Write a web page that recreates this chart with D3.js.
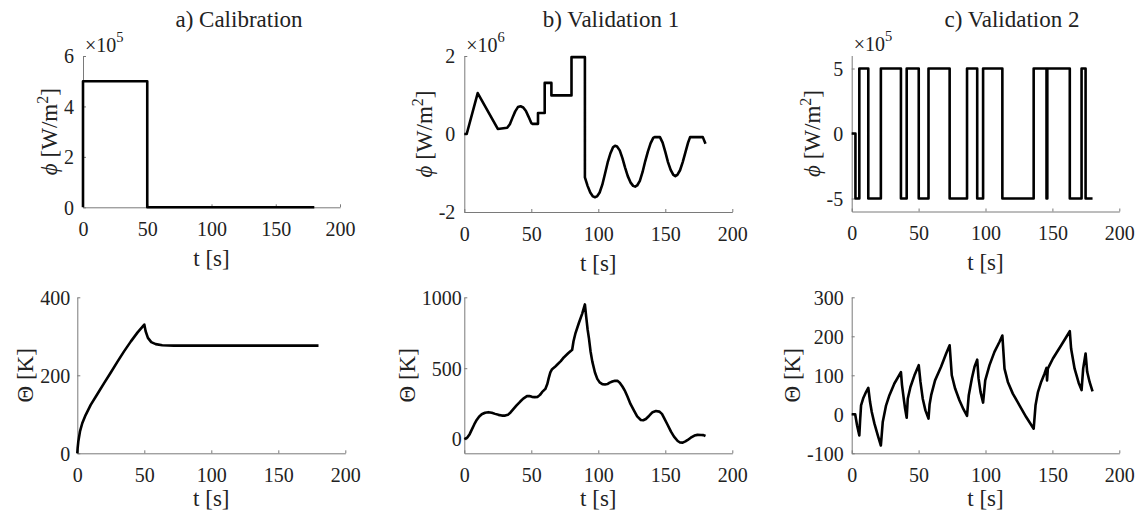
<!DOCTYPE html>
<html>
<head>
<meta charset="utf-8">
<script src="https://d3js.org/d3.v7.min.js"></script>
</head>
<body style="margin:0; background:#fff">
<svg id="fig" width="1139" height="514"></svg>
<script>
// ---- data: [time (s), value] ----
var timeTicks = [0, 50, 100, 150, 200];

// a) Calibration
var calibPhi = [[0, 0], [0, 5e5], [50, 5e5], [50, 0], [180, 0]];
var calibTheta = [[0, 0], [0.25, 13], [0.75, 30], [2, 56], [3.7, 77], [6.2, 98], [10, 124], [15, 152],
  [20, 180], [25, 207], [30, 235], [35, 262], [40, 287], [45, 310], [50, 330], [51, 313], [52.7, 296],
  [55.2, 285], [58.5, 280], [63.4, 277], [72, 276], [100, 276], [140, 276], [180, 276]];

// b) Validation 1
var val1Phi = [[0, 0], [1.8, 0], [10, 1.05e6], [25, 0.13e6], [32, 0.16e6], [34, 0.25e6], [36, 0.42e6],
  [38, 0.58e6], [40, 0.69e6], [42, 0.71e6], [44, 0.68e6], [46, 0.59e6], [48, 0.44e6], [50, 0.28e6],
  [51, 0.26e6], [55, 0.26e6], [55, 0.54e6], [60, 0.54e6], [60, 1.31e6], [65, 1.31e6], [65, 0.99e6],
  [80, 0.99e6], [80, 1.97e6], [90, 1.97e6], [90, -1.11e6], [92, -1.33e6], [94, -1.50e6], [96, -1.60e6],
  [97.5, -1.62e6], [99, -1.60e6], [101, -1.50e6], [103, -1.30e6], [105, -1.02e6], [107, -0.73e6],
  [109, -0.50e6], [111, -0.34e6], [112.5, -0.30e6], [114, -0.32e6], [116, -0.42e6], [118, -0.62e6],
  [120, -0.86e6], [122, -1.08e6], [124, -1.24e6], [126, -1.33e6], [127.5, -1.35e6], [129, -1.32e6],
  [131, -1.20e6], [133, -0.98e6], [135, -0.70e6], [137, -0.45e6], [139, -0.24e6], [141, -0.10e6],
  [142, -0.08e6], [146, -0.08e6], [148, -0.22e6], [150, -0.46e6], [152, -0.72e6], [154, -0.92e6],
  [156, -1.05e6], [157.5, -1.08e6], [159, -1.05e6], [161, -0.93e6], [163, -0.72e6], [165, -0.47e6],
  [167, -0.22e6], [168.5, -0.08e6], [178, -0.08e6], [180, -0.25e6]];
var val1Theta = [[0, 0], [2.25, 11], [4, 35], [5.5, 65], [7.5, 105], [9.25, 135], [11, 158], [13, 175],
  [15.5, 186], [18, 190], [20.5, 186], [23, 178], [25.5, 171], [28, 166], [30.5, 166], [32.5, 171],
  [34.5, 188], [36.75, 213], [39, 238], [41.75, 265], [44, 286], [46.75, 303], [48.5, 304], [50.5, 298],
  [52.5, 296], [54.75, 298], [56.5, 312], [58, 331], [60.5, 354], [62, 390], [63, 430], [64.2, 470],
  [65.5, 493], [67.5, 508], [69.25, 524], [72, 550], [74.25, 576], [77.5, 605], [80.5, 630], [81.5, 690],
  [83, 748], [85.5, 819], [88, 885], [90, 950], [91, 860], [92, 775], [93, 712], [94.2, 620], [95.5, 548],
  [97.5, 470], [99.25, 425], [101, 400], [103, 388], [105, 385], [106.75, 388], [108.5, 398], [110.5, 406],
  [112.5, 412], [114.25, 411], [116, 398], [118, 371], [120, 338], [121.75, 300], [124, 248], [126.75, 199],
  [129, 160], [131.75, 135], [133.5, 133], [135.5, 142], [138, 165], [140.5, 190], [143, 198], [145.5, 194],
  [147.5, 178], [149.25, 147], [151.5, 105], [154.25, 53], [156.5, 18], [159.25, -13], [161, -24],
  [163, -25], [165, -16], [166.75, -6], [169, 10], [171.75, 25], [174, 30], [176.75, 29], [178.5, 28],
  [180, 22]];

// c) Validation 2 (phi holds each level until the next switch time)
var val2Phi = [[0, 0], [2.8, -5e5], [5.7, 5e5], [12.4, -5e5], [21.8, 5e5], [36.8, -5e5], [41.1, 5e5],
  [50.1, -5e5], [57.4, 5e5], [73.2, -5e5], [86.2, 5e5], [93.8, -5e5], [98.2, 5e5], [112.6, -5e5],
  [136, 5e5], [145.6, -5e5], [146.2, 5e5], [163, -5e5], [171.8, 5e5], [174.8, -5e5], [180, -5e5]];
var val2Theta = [[0, 0], [2.6, 0], [4, -28], [5.7, -54], [6.3, -15], [7, 23], [8.7, 42], [10.7, 57],
  [12.4, 68], [13.7, 32], [15, 6], [17, -24], [19.5, -54], [21.8, -80], [23.2, -20], [25.7, 23],
  [28.2, 49], [31.9, 79], [36.8, 108], [37.6, 75], [38.9, 40], [39.9, 15], [41.1, -9], [41.9, 40],
  [43.9, 70], [46.9, 100], [50.1, 126], [51.4, 83], [53.1, 40], [55.1, 10], [57.4, -11], [58.2, 25],
  [59.4, 49], [62.3, 87], [66.8, 122], [70.6, 156], [73.2, 177], [74.8, 100], [77.3, 66], [80.5, 36],
  [83.5, 13], [86.2, -4], [87.5, 49], [89.8, 92], [91.8, 122], [93.8, 140], [94.8, 92], [96.3, 57],
  [98.2, 30], [99.8, 87], [103, 126], [106.7, 160], [110.5, 186], [112.6, 202], [114.2, 117],
  [116.7, 83], [120.4, 53], [125.4, 23], [130.4, -7], [136, -37], [137.4, 23], [139.2, 57], [141.6, 83],
  [144.1, 104], [145.6, 119], [146, 87], [146.6, 117], [150.4, 143], [156.6, 177], [163, 213],
  [164, 168], [166.6, 117], [169.6, 81], [171.8, 62], [173, 117], [174.8, 156], [176, 109], [177.8, 83],
  [180, 59]];

// ---- layout ----
var panels = [
  {data: calibPhi, x0: 83, x1: 340, y0: 56, y1: 207.3, dom: [0, 6e5], ticks: [0, 2e5, 4e5, 6e5], exp: 5,
   ylab: "phi", gap: 9, xlabY: 58.5, title: "a) Calibration", titleX: 239},
  {data: val1Phi, x0: 464.3, x1: 732.3, y0: 56, y1: 212, dom: [-2e6, 2e6], ticks: [-2e6, 0, 2e6], exp: 6,
   ylab: "phi", gap: 9, xlabY: 58.5, title: "b) Validation 1", titleX: 611},
  {data: val2Phi, x0: 851.7, x1: 1119.3, y0: 55.5, y1: 211.5, dom: [-6e5, 6e5], ticks: [-5e5, 0, 5e5], exp: 5,
   ylab: "phi", gap: 8.5, xlabY: 58, step: true, title: "c) Validation 2", titleX: 1012},
  {data: calibTheta, x0: 77.3, x1: 345.3, y0: 297.3, y1: 453.3, dom: [0, 400], ticks: [0, 200, 400], exp: 0,
   ylab: "theta", gap: 7, xlabY: 52.5},
  {data: val1Theta, x0: 464.3, x1: 732.3, y0: 297.3, y1: 453.3, dom: [-100, 1000], ticks: [0, 500, 1000], exp: 0,
   ylab: "theta", gap: 2.5, xlabY: 52.5},
  {data: val2Theta, x0: 851.7, x1: 1119.3, y0: 297.3, y1: 453.3, dom: [-100, 300], ticks: [-100, 0, 100, 200, 300], exp: 0,
   ylab: "theta", gap: 8, xlabY: 52.5}
];

var svg = d3.select("#fig");
var axisColor = "#7a7a7a";
var serif = "'Liberation Serif'";

function serifText(sel, size) {
  return sel.style("font-family", serif).style("font-size", size + "px").style("fill", "#222");
}

panels.forEach(function(p) {
  var x = d3.scaleLinear().domain([0, 200]).range([p.x0, p.x1]);
  var y = d3.scaleLinear().domain(p.dom).range([p.y1, p.y0]);
  var scale = Math.pow(10, p.exp);

  var xAxis = svg.append("g")
    .attr("transform", "translate(0," + p.y1 + ")")
    .call(d3.axisBottom(x).tickValues(timeTicks).tickSize(-3).tickSizeOuter(0).tickFormat(d3.format("d")));
  xAxis.selectAll("text").attr("y", 28.5).attr("dy", null);

  var yAxis = svg.append("g")
    .attr("transform", "translate(" + p.x0 + ",0)")
    .call(d3.axisLeft(y).tickValues(p.ticks).tickSize(-3).tickSizeOuter(0).tickPadding(p.gap)
      .tickFormat(function(v) { return String(Math.round(v / scale)); }));
  yAxis.selectAll("text").attr("dy", "0.34em");

  [xAxis, yAxis].forEach(function(a) {
    serifText(a.selectAll("text"), 20);
    a.selectAll("path, line").attr("stroke", axisColor);
  });

  // exponent label
  if (p.exp) {
    var e = serifText(svg.append("text").attr("x", p.x0 + 2).attr("y", p.y0 - 4.5), 20);
    e.append("tspan").text("\u00d710");
    e.append("tspan").attr("dy", -10).style("font-size", "14.5px").text(p.exp);
  }

  // data line
  svg.append("path")
    .datum(p.data)
    .attr("fill", "none")
    .attr("stroke", "#000")
    .attr("stroke-width", 2.6)
    .attr("stroke-linejoin", "round")
    .attr("d", d3.line()
      .x(function(d) { return x(d[0]); })
      .y(function(d) { return y(d[1]); })
      .curve(p.step ? d3.curveStepAfter : d3.curveLinear));

  // x label
  serifText(svg.append("text"), 23)
    .attr("x", (p.x0 + p.x1) / 2)
    .attr("y", p.y1 + p.xlabY)
    .attr("text-anchor", "middle")
    .text("t [s]");

  // y label, placed left of the widest tick label
  var minX = yAxis.node().getBBox().x + p.x0;
  var yl = serifText(svg.append("text"), 23)
    .attr("transform", "translate(" + (minX - 7) + "," + ((p.y0 + p.y1) / 2) + ") rotate(-90)")
    .attr("text-anchor", "middle");
  if (p.ylab === "phi") {
    yl.append("tspan").style("font-style", "italic").text("\u03d5");
    yl.append("tspan").text(" [W/m");
    yl.append("tspan").attr("dy", -9).style("font-size", "16px").text("2");
    yl.append("tspan").attr("dy", 9).text("]");
  } else {
    yl.text("\u0398 [K]");
  }

  if (p.title) {
    serifText(svg.append("text"), 23)
      .attr("x", p.titleX)
      .attr("y", 27)
      .attr("text-anchor", "middle")
      .text(p.title);
  }
});
</script>
</body>
</html>
